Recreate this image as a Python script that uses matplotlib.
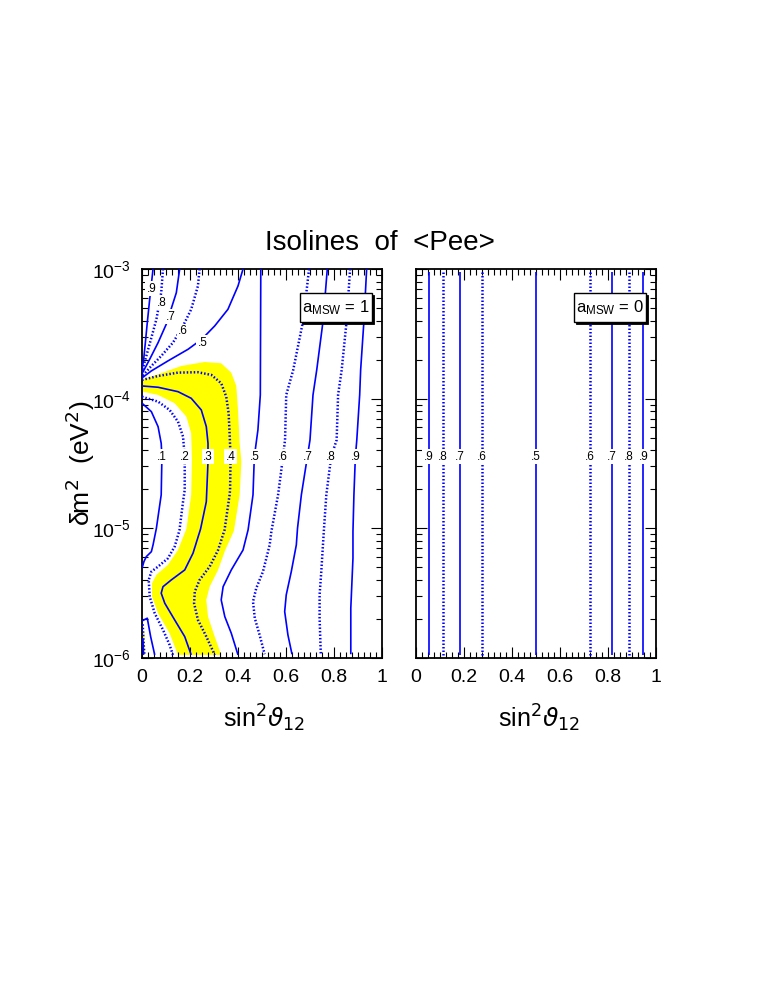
import numpy as np
import matplotlib
matplotlib.use('Agg')
import matplotlib.pyplot as plt
from matplotlib.patches import Rectangle
from matplotlib.ticker import MultipleLocator, LogLocator, NullFormatter

plt.rcParams['font.family'] = ['Liberation Sans', 'DejaVu Sans']
plt.rcParams['mathtext.fontset'] = 'dejavusans'

# ---------------- data: left panel (a_MSW = 1) ----------------
# upper-left fan of contours (x = sin^2 theta12, L = log10 dm2)
p9_fan_x = [0.046, 0.032, 0.022, 0.014, 0.007, 0.0]
p9_fan_L = [-3.0, -3.234, -3.414, -3.568, -3.696, -3.776]
p8_fan_x = [0.0875, 0.080, 0.060, 0.039, 0.018, 0.0]
p8_fan_L = [-3.0, -3.183, -3.388, -3.530, -3.671, -3.790]
p7_fan_x = [0.157, 0.143, 0.101, 0.067, 0.032, 0.0]
p7_fan_L = [-3.0, -3.183, -3.426, -3.568, -3.696, -3.808]
p6_fan_x = [0.240, 0.233, 0.205, 0.171, 0.129, 0.080, 0.039, 0.0]
p6_fan_L = [-3.0, -3.131, -3.311, -3.439, -3.568, -3.671, -3.748, -3.828]
p5_fan_x = [0.421, 0.400, 0.358, 0.303, 0.250, 0.192, 0.108, 0.039, 0.0]
p5_fan_L = [-3.0, -3.131, -3.311, -3.439, -3.540, -3.619, -3.709, -3.786, -3.840]

# MSW "banana" contours
p4_x = [0.0, 0.067, 0.150, 0.233, 0.289, 0.330, 0.351, 0.361, 0.365, 0.369, 0.367,
        0.365, 0.344, 0.317, 0.282, 0.240, 0.220, 0.217, 0.233, 0.268, 0.303]
p4_L = [-3.856, -3.825, -3.799, -3.796, -3.817, -3.881, -3.985, -4.113, -4.267, -4.449, -4.704,
        -4.742, -5.012, -5.167, -5.295, -5.398, -5.488, -5.578, -5.706, -5.835, -5.976]
p3_x = [0.0, 0.067, 0.150, 0.205, 0.247, 0.268, 0.275, 0.275, 0.268, 0.244,
        0.2125, 0.178, 0.122, 0.0875, 0.080, 0.095, 0.136, 0.178, 0.205]
p3_L = [-3.902, -3.912, -3.946, -3.997, -4.087, -4.216, -4.344, -4.486, -4.794, -5.005,
        -5.192, -5.321, -5.398, -5.450, -5.500, -5.578, -5.706, -5.835, -5.976]
p2_x = [0.0, 0.067, 0.115, 0.150, 0.171, 0.178, 0.178, 0.171, 0.156, 0.136,
        0.108, 0.067, 0.039, 0.028, 0.032, 0.053, 0.0875, 0.115, 0.129]
p2_L = [-3.985, -4.023, -4.087, -4.177, -4.293, -4.449, -4.704, -4.794, -5.016, -5.141,
        -5.231, -5.295, -5.334, -5.398, -5.527, -5.655, -5.783, -5.899, -5.976]
p1_x = [0.0, 0.039, 0.067, 0.080, 0.083, 0.080, 0.060, 0.046, 0.039, 0.018, 0.008, 0.0]
p1_L = [-4.035, -4.100, -4.216, -4.344, -4.449, -4.742, -4.999, -5.128, -5.180, -5.218, -5.257, -5.308]
p1_low_x = [0.0, 0.022, 0.036, 0.053]
p1_low_L = [-5.714, -5.693, -5.835, -5.976]
p2_low_x = [0.003, 0.006, 0.010]
p2_low_L = [-5.74, -5.86, -5.976]
p3_low_x = [0.004, 0.006]
p3_low_L = [-5.85, -5.976]

# right-hand (vacuum-like) branches
p5_r_x = [0.495, 0.493, 0.483, 0.468, 0.4625, 0.442, 0.421, 0.372, 0.338, 0.330, 0.345, 0.372, 0.400]
p5_r_L = [-3.0, -3.971, -4.241, -4.449, -4.742, -5.012, -5.167, -5.321, -5.450, -5.552, -5.681, -5.809, -5.976]
p6_r_x = [0.696, 0.672, 0.630, 0.601, 0.596, 0.5875, 0.567, 0.539, 0.532, 0.504, 0.476, 0.4625, 0.470, 0.490, 0.511]
p6_r_L = [-3.0, -3.393, -3.779, -3.971, -4.318, -4.449, -4.742, -5.025, -5.128, -5.334, -5.462, -5.565, -5.693, -5.822, -5.971]
p7_r_x = [0.772, 0.755, 0.728, 0.7125, 0.700, 0.689, 0.664, 0.648, 0.643, 0.622, 0.601, 0.5945, 0.608, 0.625]
p7_r_L = [-3.0, -3.393, -3.779, -3.971, -4.318, -4.449, -4.742, -4.999, -5.128, -5.334, -5.513, -5.642, -5.822, -5.971]
p8_r_x = [0.867, 0.853, 0.832, 0.817, 0.811, 0.788, 0.768, 0.758, 0.754, 0.747, 0.740, 0.740, 0.745]
p8_r_L = [-3.0, -3.393, -3.779, -3.971, -4.318, -4.449, -4.742, -5.012, -5.128, -5.334, -5.513, -5.693, -5.971]
p9_r_x = [0.936, 0.925, 0.911, 0.907, 0.895, 0.889, 0.883, 0.879, 0.879, 0.870, 0.870]
p9_r_L = [-3.0, -3.393, -3.779, -3.971, -4.318, -4.449, -4.742, -5.025, -5.231, -5.616, -5.971]

# yellow allowed band (closed outline)
band_x = [0.0, 0.004, 0.067, 0.164, 0.261, 0.330, 0.372, 0.393, 0.400, 0.407, 0.414, 0.407,
          0.383, 0.347, 0.317, 0.282, 0.268, 0.275, 0.303, 0.330,
          0.150, 0.115, 0.067, 0.042, 0.042, 0.060, 0.108, 0.150, 0.185, 0.205,
          0.208, 0.205, 0.185, 0.136, 0.067, 0.004, 0.0]
band_L = [-3.850, -3.850, -3.812, -3.748, -3.717, -3.727, -3.800, -3.902, -4.087, -4.344, -4.486, -4.742,
          -5.020, -5.167, -5.321, -5.450, -5.552, -5.681, -5.835, -5.976,
          -5.976, -5.809, -5.655, -5.527, -5.423, -5.359, -5.282, -5.167, -5.005, -4.742,
          -4.473, -4.267, -4.139, -4.035, -3.971, -3.946, -3.946]
sliver_x = [0.002, 0.010, 0.012, 0.002]
sliver_L = [-5.80, -5.80, -5.976, -5.976]

# contour labels (left panel)
lab_row_L = -4.449
lab_row_x = [0.083, 0.178, 0.275, 0.369, 0.470, 0.5875, 0.689, 0.786, 0.889]
lab_row_t = ['.1', '.2', '.3', '.4', '.5', '.6', '.7', '.8', '.9']
lab_fan_x = [0.039, 0.083, 0.122, 0.172, 0.252]
lab_fan_L = [-3.152, -3.260, -3.367, -3.482, -3.567]
lab_fan_t = ['.9', '.8', '.7', '.6', '.5']

# ---------------- data: right panel (a_MSW = 0) ----------------
vac_x = [0.053, 0.113, 0.184, 0.276, 0.500, 0.724, 0.816, 0.887, 0.947]
vac_t = ['.9', '.8', '.7', '.6', '.5', '.6', '.7', '.8', '.9']
vac_top_L = -3.02
vac_bot_L = -5.976

x_ticks = [0, 0.2, 0.4, 0.6, 0.8, 1]
x_ticklabels = ['0', '0.2', '0.4', '0.6', '0.8', '1']

# ---------------- drawing ----------------
BLUE = '#0000ff'
SOLID = dict(color=BLUE, lw=1.2, ls='-', zorder=3)
DOTS = dict(color=BLUE, lw=1.8, ls=(0, (0.6, 0.8)), zorder=3)

fig = plt.figure(figsize=(7.65, 9.9), dpi=100)
W, H = 765.0, 990.0
axL = fig.add_axes([142 / W, 1 - 658 / H, 240 / W, 389 / H])
axR = fig.add_axes([416 / W, 1 - 658 / H, 240 / W, 389 / H])


def line(ax, xs, Ls, style):
    ax.plot(xs, 10 ** np.asarray(Ls, dtype=float), solid_capstyle='butt', **style)


def lab(ax, x, L, t):
    ax.text(x, 10 ** L, t, fontsize=8.5, ha='center', va='center', zorder=5,
            bbox=dict(boxstyle='square,pad=0.12', fc='white', ec='none'))


# left panel
axL.fill(band_x, 10 ** np.asarray(band_L), color='#ffff00', lw=0, zorder=1)
axL.fill(sliver_x, 10 ** np.asarray(sliver_L), color='#ffff00', lw=0, zorder=1)
line(axL, p9_fan_x, p9_fan_L, SOLID)
line(axL, p8_fan_x, p8_fan_L, DOTS)
line(axL, p7_fan_x, p7_fan_L, SOLID)
line(axL, p6_fan_x, p6_fan_L, DOTS)
line(axL, p5_fan_x, p5_fan_L, SOLID)
line(axL, p4_x, p4_L, DOTS)
line(axL, p3_x, p3_L, SOLID)
line(axL, p2_x, p2_L, DOTS)
line(axL, p1_x, p1_L, SOLID)
line(axL, p1_low_x, p1_low_L, SOLID)
line(axL, p2_low_x, p2_low_L, DOTS)
line(axL, p3_low_x, p3_low_L, SOLID)
line(axL, p5_r_x, p5_r_L, SOLID)
line(axL, p6_r_x, p6_r_L, DOTS)
line(axL, p7_r_x, p7_r_L, SOLID)
line(axL, p8_r_x, p8_r_L, DOTS)
line(axL, p9_r_x, p9_r_L, SOLID)
for x, t in zip(lab_row_x, lab_row_t):
    lab(axL, x, lab_row_L, t)
for x, L, t in zip(lab_fan_x, lab_fan_L, lab_fan_t):
    lab(axL, x, L, t)

# right panel
for x, t in zip(vac_x, vac_t):
    style = SOLID if t in ('.9', '.7', '.5') else DOTS
    line(axR, [x, x], [vac_top_L, vac_bot_L], style)
    lab(axR, x, lab_row_L, t)

for ax in (axL, axR):
    ax.set_xlim(0, 1)
    ax.set_yscale('log')
    ax.set_ylim(1e-6, 1e-3)
    ax.set_xticks(x_ticks)
    ax.set_xticklabels(x_ticklabels)
    ax.xaxis.set_minor_locator(MultipleLocator(0.025))
    ax.yaxis.set_major_locator(LogLocator(base=10, numticks=10))
    ax.yaxis.set_minor_locator(LogLocator(base=10, subs=np.arange(2, 10), numticks=20))
    ax.yaxis.set_minor_formatter(NullFormatter())
    ax.tick_params(which='both', direction='in', top=True, right=True, width=0.8)
    ax.tick_params(which='major', length=8, labelsize=14, pad=8)
    ax.tick_params(which='minor', length=4)
    for s in ax.spines.values():
        s.set_linewidth(1.3)
axR.tick_params(labelleft=False)


def msw_box(ax, txt):
    x0, y0, w, h = 0.658, 0.863, 0.302, 0.0745
    ax.add_patch(Rectangle((x0 + 0.007, y0 - 0.004), w, h, transform=ax.transAxes,
                           fc='black', ec='black', lw=0.6, zorder=6, clip_on=False))
    ax.add_patch(Rectangle((x0, y0), w, h, transform=ax.transAxes,
                           fc='white', ec='black', lw=1.0, zorder=7, clip_on=False))
    ax.text(x0 + w / 2, y0 + h / 2, txt, transform=ax.transAxes, fontsize=12,
            ha='center', va='center', zorder=8)


msw_box(axL, r'$\mathregular{a_{MSW}}$ = 1')
msw_box(axR, r'$\mathregular{a_{MSW}}$ = 0')

fig.text(265 / W, 1 - 243 / H, 'Isolines  of  <Pee>', fontsize=20, ha='left', va='center')
fig.text(80 / W, 1 - 463 / H, r'δm$^2$  (eV$^2$)', fontsize=19, rotation=90,
         ha='center', va='center')
fig.text(264 / W, 1 - 718 / H, r'sin$^2\vartheta_{12}$', fontsize=18, ha='center', va='center')
fig.text(539 / W, 1 - 718 / H, r'sin$^2\vartheta_{12}$', fontsize=18, ha='center', va='center')

fig.savefig('out.png', dpi=100)
